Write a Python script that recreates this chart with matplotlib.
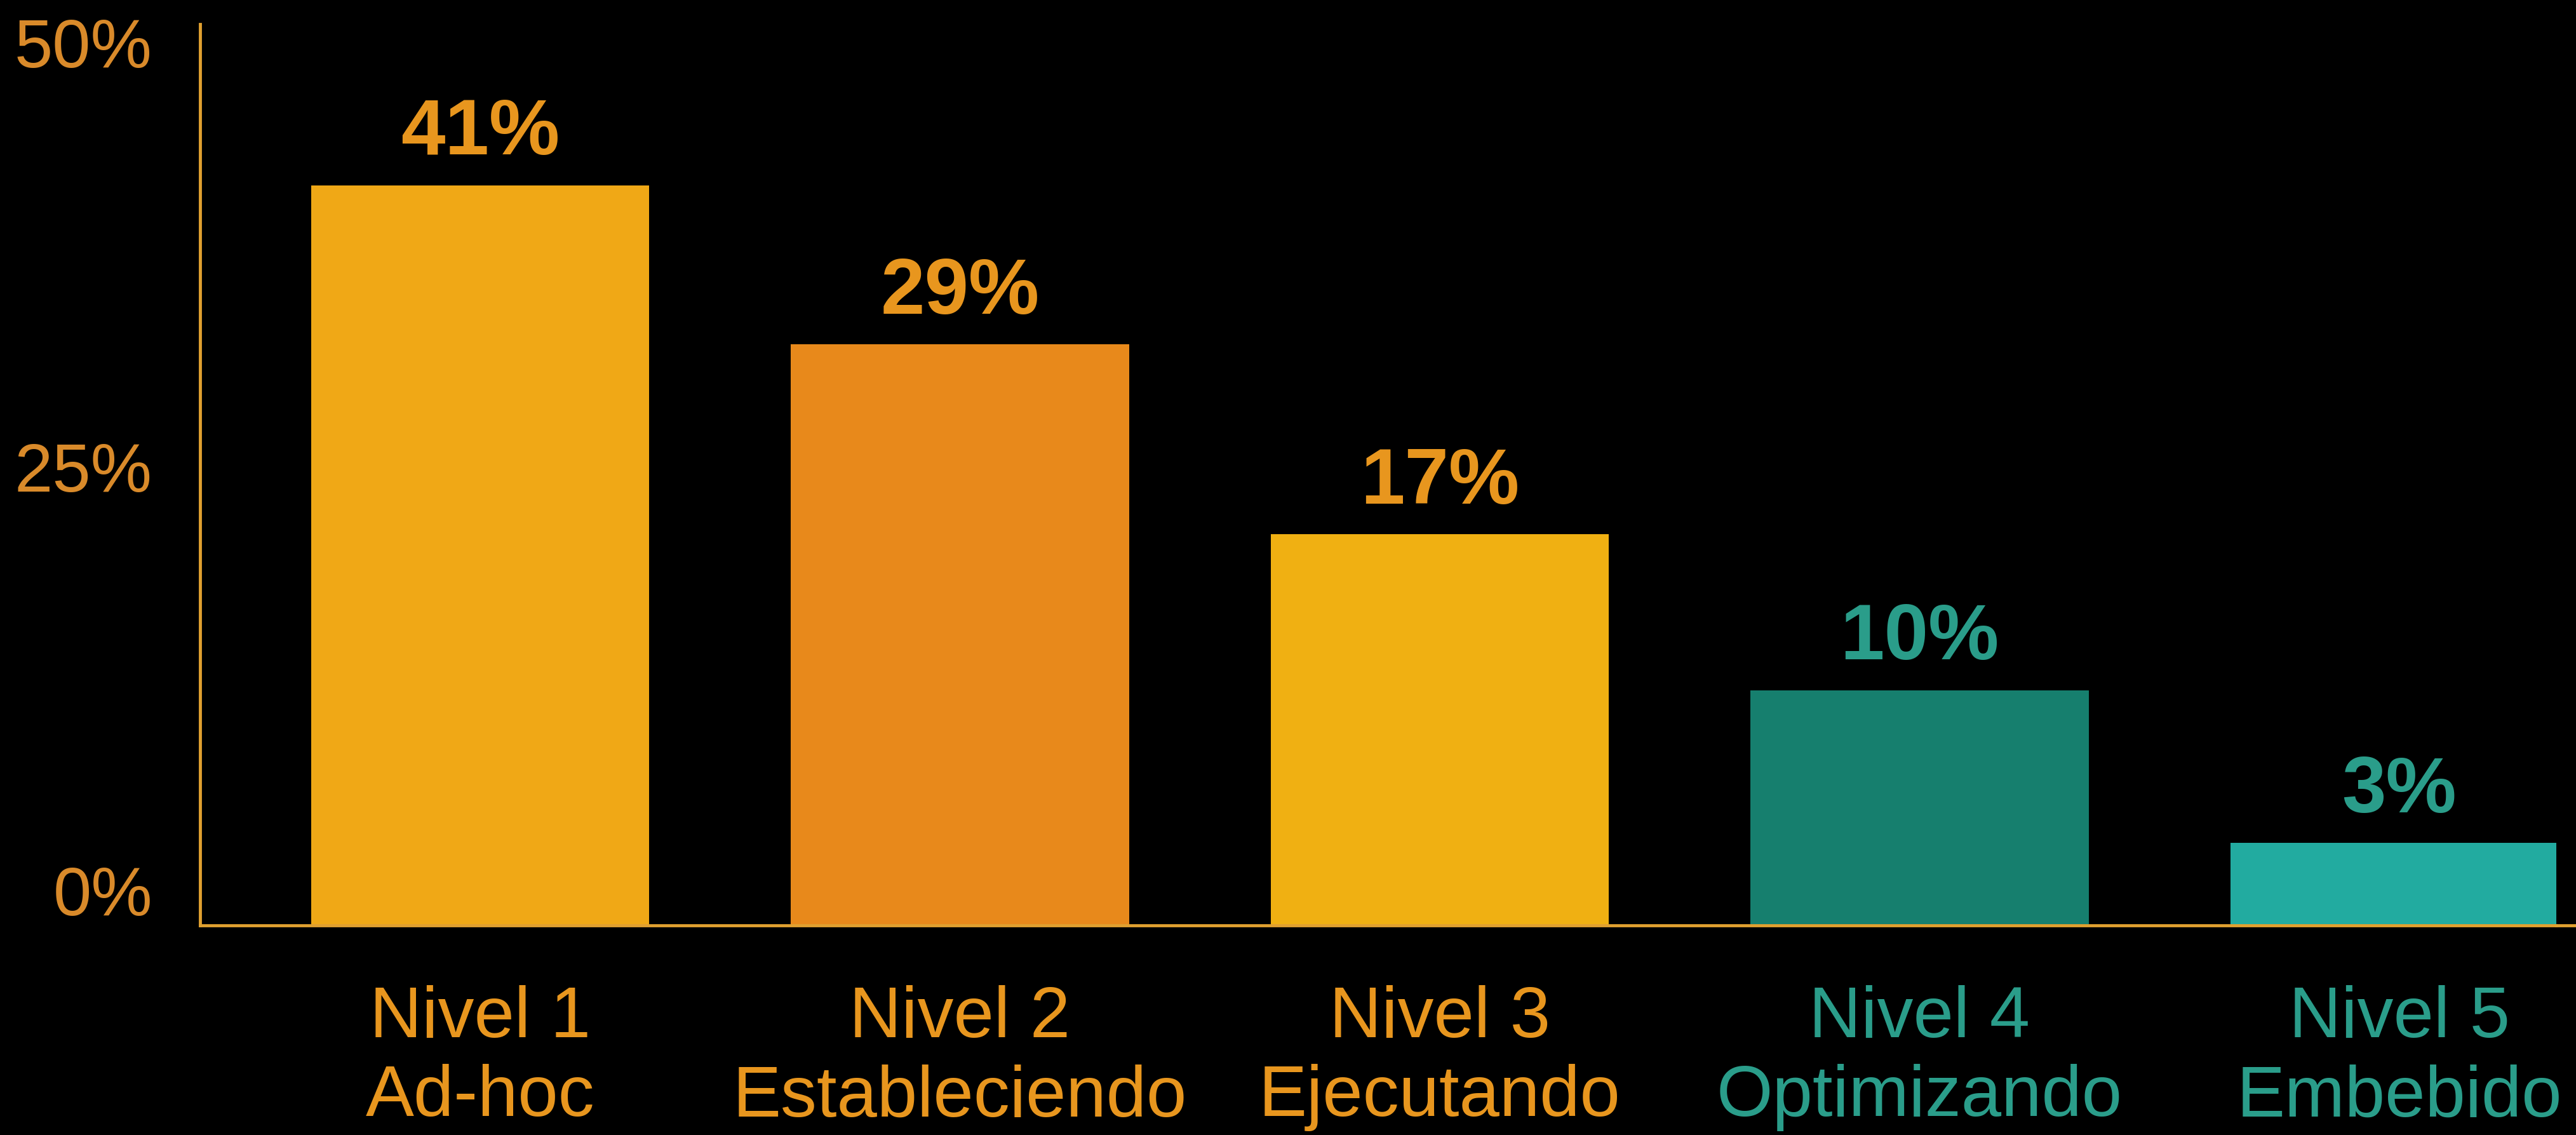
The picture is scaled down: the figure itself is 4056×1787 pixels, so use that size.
import numpy as np
import matplotlib
matplotlib.use("Agg")
import matplotlib.pyplot as plt
from matplotlib.lines import Line2D

# 데이터 - 그림에서 읽은 값
niveles = ["Nivel 1", "Nivel 2", "Nivel 3", "Nivel 4", "Nivel 5"]
nombres = ["Ad-hoc", "Estableciendo", "Ejecutando", "Optimizando", "Embebido"]
porcentajes = [41, 29, 17, 10, 3]
# 막대 윗면이 축 눈금 기준으로 실제 닿는 높이 (그림에서 측정)
alturas = [41.6, 32.2, 21.0, 11.8, 2.8]
y_ticks = [0, 25, 50]

# 색
bar_colors = ["#F0A816", "#E8891B", "#F0B012", "#167F6E", "#22ABA0"]
text_colors = ["#E8961E", "#E8961E", "#E8961E", "#2A9D8A", "#2A9D8A"]
axis_color = "#E0A030"
tick_color = "#D98A2A"

plt.rcParams["font.family"] = ["Liberation Sans", "DejaVu Sans"]

W, H = 4056, 1787
fig = plt.figure(figsize=(W / 100, H / 100), dpi=100, facecolor="black")
# 오른쪽 끝 막대는 잘려 있음 -> 축을 4025px에서 끝냄
ax = fig.add_axes([315 / W, 1 - 1457 / H, (4025 - 315) / W, (1457 - 38) / H])
ax.set_facecolor("black")

base = -2.06
x = np.arange(len(niveles))
ax.bar(x, np.array(alturas) - base, bottom=base, width=0.705, color=bar_colors)

# 값 라벨
for xi, h, p, c in zip(x, alturas, porcentajes, text_colors):
    ax.annotate(f"{p}%", (xi, h), xytext=(0, 35), textcoords="offset points",
                ha="center", va="baseline", fontsize=90, fontweight="bold", color=c)

ax.set_xlim(-0.5837, 4.327)
ax.set_ylim(base, 51.1)

ax.set_yticks(y_ticks)
ax.set_yticklabels([f"{t}%" for t in y_ticks], fontsize=78, color=tick_color)
ax.set_xticks(x)
ax.set_xticklabels([f"{a}\n{b}" for a, b in zip(niveles, nombres)], fontsize=82,
                   linespacing=1.22)
for lbl, c in zip(ax.get_xticklabels(), text_colors):
    lbl.set_color(c)

ax.tick_params(axis="both", length=0)
ax.tick_params(axis="y", pad=54)
ax.tick_params(axis="x", pad=68)

for s in ["top", "right"]:
    ax.spines[s].set_visible(False)
for s in ["left", "bottom"]:
    ax.spines[s].set_color(axis_color)
    ax.spines[s].set_linewidth(3.5)

# 기준선은 그림 오른쪽 끝까지
fig.add_artist(Line2D([4025 / W, 1.0], [1 - 1457 / H, 1 - 1457 / H],
                      color=axis_color, linewidth=3.5))

fig.savefig("out.png", dpi=100, facecolor="black")
